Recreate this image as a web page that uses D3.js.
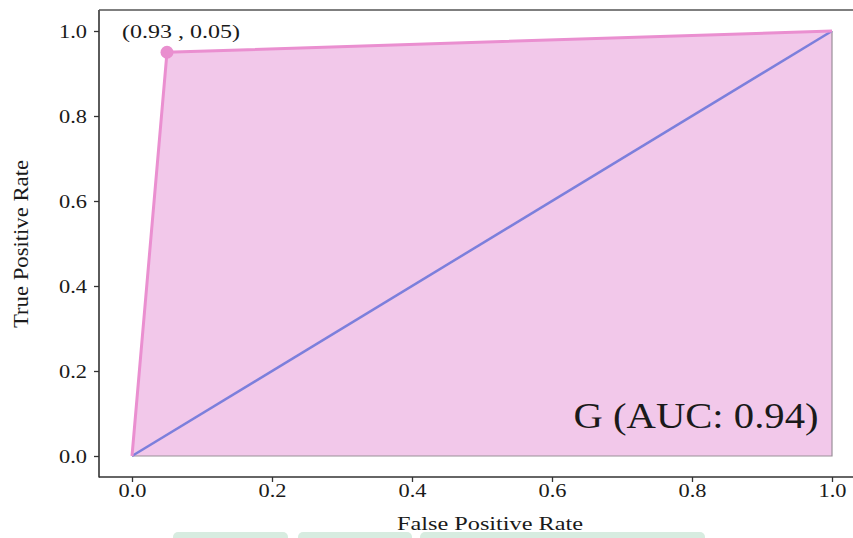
<!DOCTYPE html>
<html>
<head>
<meta charset="utf-8">
<script src="https://cdn.jsdelivr.net/npm/d3@7"></script>
<style>
  html, body { margin: 0; padding: 0; background: #ffffff; }
  svg { display: block; }
  text { font-family: "Liberation Serif", "DejaVu Serif", serif; fill: #1a1a1a; }
</style>
</head>
<body>
<svg id="chart" width="853" height="538"></svg>
<script>
// ---- data ----
const fpr = [0, 0.05, 1];
const tpr = [0, 0.95, 1];
const chanceX = [0, 1];
const chanceY = [0, 1];
const xTicks = [0, 0.2, 0.4, 0.6, 0.8, 1.0];
const yTicks = [0, 0.2, 0.4, 0.6, 0.8, 1.0];
const pointLabel = "(0.93 , 0.05)";
const aucLabel = "G (AUC: 0.94)";
const xTitle = "False Positive Rate";
const yTitle = "True Positive Rate";

const svg = d3.select("#chart");
const x = d3.scaleLinear().domain([0, 1]).range([132, 832]);
const y = d3.scaleLinear().domain([0, 1]).range([456, 31]);

// decorative page artifacts at bottom (light green)
const blobs = [[173, 288], [298, 412], [420, 705]];
svg.selectAll("rect.blob").data(blobs).join("rect")
  .attr("x", d => d[0]).attr("y", 532).attr("width", d => d[1] - d[0]).attr("height", 12)
  .attr("rx", 5).attr("fill", "#d7ece0");

// filled area under ROC curve
const pts = fpr.map((f, i) => [f, tpr[i]]);
const poly = [...pts, [fpr[fpr.length - 1], 0], [0, 0]];
svg.append("path")
  .attr("d", d3.line().x(d => x(d[0])).y(d => y(d[1]))(poly) + "Z")
  .attr("fill", "#f2c8ea").attr("stroke", "none");
// gray right & bottom edges of area
svg.append("path")
  .attr("d", d3.line().x(d => x(d[0])).y(d => y(d[1]))([[1, 1], [1, 0], [0, 0]]))
  .attr("fill", "none").attr("stroke", "#9a8f98").attr("stroke-width", 1.2);

// chance diagonal
svg.append("path")
  .attr("d", d3.line().x(d => x(d[0])).y(d => y(d[1]))(chanceX.map((v, i) => [v, chanceY[i]])))
  .attr("fill", "none").attr("stroke", "#7c7fdc").attr("stroke-width", 2.5);

// ROC curve
svg.append("path")
  .attr("d", d3.line().x(d => x(d[0])).y(d => y(d[1]))(pts))
  .attr("fill", "none").attr("stroke", "#ea8fd0").attr("stroke-width", 3);

// operating point
svg.append("circle")
  .attr("cx", x(fpr[1])).attr("cy", y(tpr[1])).attr("r", 6.5)
  .attr("fill", "#e98fcf");

// frame lines
const frame = svg.append("g").attr("stroke", "#333").attr("stroke-width", 1.6).attr("fill", "none");
frame.append("line").attr("x1", 99).attr("x2", 99).attr("y1", 10).attr("y2", 477.5);
frame.append("line").attr("x1", 99).attr("x2", 853).attr("y1", 477).attr("y2", 477);
frame.append("line").attr("x1", 99).attr("x2", 853).attr("y1", 10).attr("y2", 10).attr("stroke", "#555");

// y axis
const yAxis = svg.append("g").attr("transform", "translate(99,0)")
  .call(d3.axisLeft(y).tickValues(yTicks).tickFormat(d3.format(".1f")).tickSize(5).tickPadding(8));
yAxis.select(".domain").remove();
yAxis.selectAll("line").attr("stroke", "#333").attr("stroke-width", 1.3);
yAxis.selectAll("text")
  .attr("font-size", 19).attr("font-family", "Liberation Serif, serif").attr("fill", "#1a1a1a")
  .attr("x", -12).attr("dy", "0.32em")
  .attr("textLength", 28).attr("lengthAdjust", "spacingAndGlyphs");

// x axis
const xAxis = svg.append("g").attr("transform", "translate(0,477)")
  .call(d3.axisBottom(x).tickValues(xTicks).tickFormat(d3.format(".1f")).tickSize(5).tickPadding(3));
xAxis.select(".domain").remove();
xAxis.selectAll("line").attr("stroke", "#333").attr("stroke-width", 1.3);
xAxis.selectAll("text")
  .attr("font-size", 19).attr("font-family", "Liberation Serif, serif").attr("fill", "#1a1a1a")
  .attr("y", 20).attr("dy", 0)
  .attr("textLength", 28).attr("lengthAdjust", "spacingAndGlyphs");

// annotation
svg.append("text").attr("x", 181).attr("y", 38).attr("text-anchor", "middle")
  .attr("font-size", 19).attr("textLength", 118).attr("lengthAdjust", "spacingAndGlyphs")
  .text(pointLabel);

svg.append("text").attr("x", 696).attr("y", 428).attr("text-anchor", "middle")
  .attr("font-size", 35).attr("textLength", 245).attr("lengthAdjust", "spacingAndGlyphs")
  .text(aucLabel);

// axis titles
svg.append("text").attr("x", 490).attr("y", 530).attr("text-anchor", "middle")
  .attr("font-size", 19).attr("textLength", 186).attr("lengthAdjust", "spacingAndGlyphs")
  .text(xTitle);
svg.append("text").attr("transform", "translate(28,244) rotate(-90)").attr("text-anchor", "middle")
  .attr("font-size", 20).attr("textLength", 168).attr("lengthAdjust", "spacingAndGlyphs")
  .text(yTitle);
</script>
</body>
</html>
